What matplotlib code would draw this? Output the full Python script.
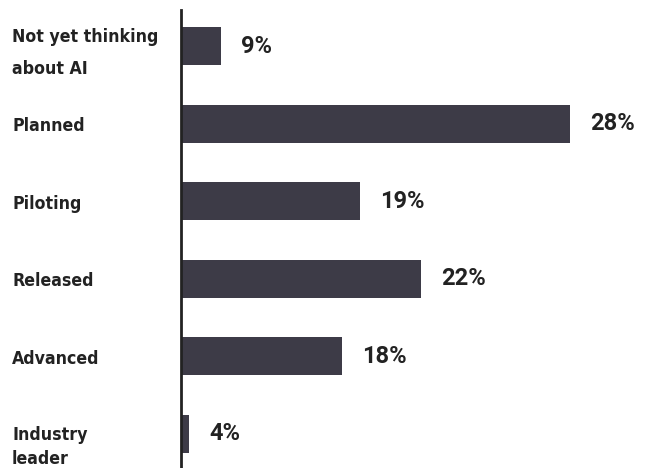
import matplotlib
matplotlib.use("Agg")
import matplotlib.pyplot as plt
import matplotlib.transforms as mtransforms
import numpy as np

categories = ["Not yet thinking\nabout AI", "Planned", "Piloting", "Released", "Advanced", "Industry\nleader"]
values = [9, 28, 19, 22, 18, 4]
value_labels = ["9%", "28%", "19%", "22%", "18%", "4%"]

# baseline shift (pixels below bar centre) for each line of each label
line_shifts = {
    "Not yet thinking\nabout AI": [-4, 28],
    "Industry\nleader": [6, 30],
}
single_shift = 7.5

bar_color = "#3d3b47"
text_color = "#222222"

fig = plt.figure(figsize=(6.48, 4.68), dpi=100)
ax = fig.add_axes([181 / 648, 0.0, 1 - 181 / 648 - 0.01, 1 - 10 / 468])

# bar lengths in the original grow with the square of the value
ax.set_xscale("function", functions=(lambda x: np.square(x), lambda x: np.sqrt(np.clip(x, 0, None))))

y = np.arange(len(categories))
ax.barh(y, values, height=0.49, color=bar_color)
ax.set_xlim(0, 30.47)
ax.set_ylim(5.44, -0.47)

for yi, v, lab in zip(y, values, value_labels):
    ax.annotate(lab, (v, yi), xytext=(14.5, 0), textcoords="offset points",
                va="center", ha="left", fontsize=17, fontweight="bold",
                family=["Roboto", "DejaVu Sans"], color=text_color)

label_tr = mtransforms.blended_transform_factory(fig.transFigure, ax.transData)
for yi, cat in zip(y, categories):
    lines = cat.split("\n")
    shifts = line_shifts.get(cat, [single_shift])
    for line, dy in zip(lines, shifts):
        ax.annotate(line, (12 / 648, yi), xycoords=label_tr, xytext=(0, -dy),
                    textcoords="offset pixels", va="baseline", ha="left",
                    fontsize=12.7, fontweight="bold", stretch="condensed",
                    family=["DejaVu Sans"], color=text_color, annotation_clip=False)

for s in ["top", "right", "bottom"]:
    ax.spines[s].set_visible(False)
ax.spines["left"].set_linewidth(2)
ax.spines["left"].set_color(text_color)
ax.set_xticks([])
ax.set_yticks([])

fig.savefig("out.png", dpi=100)
